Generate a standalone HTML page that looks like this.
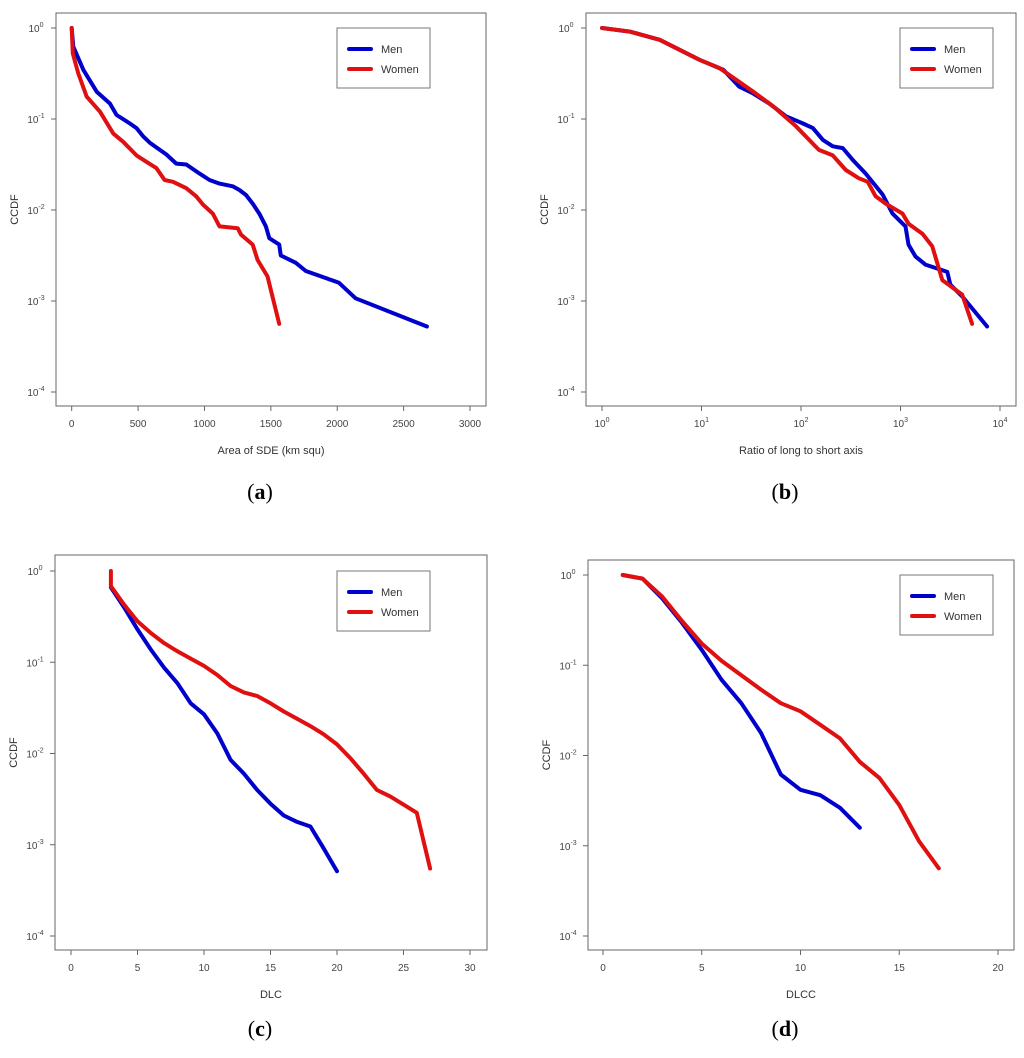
<!DOCTYPE html>
<html><head><meta charset="utf-8">
<style>
html,body{margin:0;padding:0;background:#fff;}
body{width:1024px;height:1058px;overflow:hidden;position:relative;font-family:"Liberation Sans",sans-serif;}
svg{position:absolute;left:0;top:0;}
.cap{position:absolute;font-family:"Liberation Serif",serif;font-size:22px;transform:translateX(-50%);}
</style></head>
<body>
<svg id="fig" width="1024" height="1058"></svg>
<div class="cap" style="left:260px;top:479px">(<b>a</b>)</div>
<div class="cap" style="left:785px;top:479px">(<b>b</b>)</div>
<div class="cap" style="left:260px;top:1016px">(<b>c</b>)</div>
<div class="cap" style="left:785px;top:1016px">(<b>d</b>)</div>
<script>
// Panel (a): x = Area of SDE, y = log10(CCDF)
const aMenX=[0,12,88,188,288,338,438,488,538,588,713,788,863,963,1038,1113,1213,1263,1313,1363,1413,1463,1488,1563,1575,1688,1763,2013,2138,2675];
const aMenY=[0,-0.205,-0.46,-0.70,-0.83,-0.956,-1.05,-1.1,-1.19,-1.26,-1.39,-1.49,-1.5,-1.6,-1.67,-1.71,-1.74,-1.78,-1.835,-1.93,-2.04,-2.18,-2.31,-2.38,-2.5,-2.58,-2.67,-2.8,-2.97,-3.28];
const aWomenX=[0,8,50,113,213,313,388,488,563,638,700,763,863,938,988,1063,1113,1250,1275,1363,1400,1475,1563];
const aWomenY=[0,-0.28,-0.5,-0.755,-0.92,-1.16,-1.25,-1.4,-1.47,-1.54,-1.67,-1.69,-1.76,-1.85,-1.94,-2.04,-2.18,-2.2,-2.27,-2.38,-2.55,-2.73,-3.25];
// Panel (b): x = log10(ratio), y = log10(CCDF)
const bMenX=[0,0.28,0.58,0.98,1.22,1.38,1.52,1.68,1.85,2.02,2.12,2.22,2.32,2.42,2.52,2.65,2.82,2.92,3.05,3.08,3.15,3.25,3.47,3.5,3.62,3.87];
const bMenY=[0,-0.04,-0.13,-0.35,-0.46,-0.645,-0.72,-0.83,-0.97,-1.05,-1.1,-1.23,-1.3,-1.32,-1.45,-1.6,-1.83,-2.04,-2.18,-2.38,-2.51,-2.6,-2.68,-2.82,-2.95,-3.28];
const bWomenX=[0,0.28,0.58,0.98,1.18,1.52,1.72,1.95,2.18,2.32,2.45,2.58,2.67,2.75,2.85,3.02,3.08,3.22,3.32,3.42,3.62,3.72];
const bWomenY=[0,-0.04,-0.13,-0.35,-0.44,-0.70,-0.86,-1.08,-1.34,-1.4,-1.56,-1.65,-1.69,-1.85,-1.93,-2.04,-2.15,-2.26,-2.40,-2.77,-2.93,-3.25];
// Panel (c): DLC
const cMenX=[3,4,5,6,7,8,9,10,11,12,13,14,15,16,17,18,19,20];
const cMenY=[-0.18,-0.40,-0.64,-0.86,-1.06,-1.23,-1.45,-1.57,-1.78,-2.07,-2.22,-2.40,-2.55,-2.68,-2.75,-2.80,-3.04,-3.29];
const cWomenX=[3,3,4,5,6,7,8,9,10,11,12,13,14,15,16,17,18,19,20,21,22,23,24,25,26,27];
const cWomenY=[0,-0.165,-0.37,-0.55,-0.68,-0.79,-0.88,-0.96,-1.04,-1.14,-1.26,-1.33,-1.37,-1.45,-1.54,-1.62,-1.70,-1.79,-1.90,-2.05,-2.22,-2.40,-2.47,-2.56,-2.65,-3.26];
// Panel (d): DLCC
const dMenX=[1,2,3,4,5,6,7,8,9,10,11,12,13];
const dMenY=[0,-0.04,-0.26,-0.53,-0.83,-1.16,-1.42,-1.75,-2.21,-2.38,-2.44,-2.58,-2.80];
const dWomenX=[1,2,3,4,5,6,7,8,9,10,11,12,13,14,15,16,17];
const dWomenY=[0,-0.04,-0.24,-0.51,-0.76,-0.95,-1.11,-1.27,-1.42,-1.51,-1.66,-1.81,-2.07,-2.25,-2.55,-2.95,-3.25];
// tick labels
const aXTicks=[0,500,1000,1500,2000,2500,3000];
const bXTicks=[0,1,2,3,4];
const cXTicks=[0,5,10,15,20,25,30];
const dXTicks=[0,5,10,15,20];
const yTicks=[0,-1,-2,-3,-4];

const NS='http://www.w3.org/2000/svg';
const svg=document.getElementById('fig');
function mk(tag,attrs,parent){const e=document.createElementNS(NS,tag);for(const k in attrs)e.setAttribute(k,attrs[k]);(parent||svg).appendChild(e);return e;}

function panel(p){
  const g=mk('g',{});
  
  
  const sx=v=>p.x0+(v-p.xmin)/(p.xmax-p.xmin)*(p.x1-p.x0);
  const sy=v=>p.y0+(0-v)/4*(p.y1-p.y0);
  const box=mk('rect',{x:p.bx0,y:p.by0,width:p.bx1-p.bx0,height:p.by1-p.by0,fill:'none',stroke:'#666','stroke-width':1},g);
  
  
  // x ticks
  p.xt.forEach(t=>{
    const X=sx(t);
    mk('line',{x1:X,x2:X,y1:p.by1,y2:p.by1+5,stroke:'#666'},g);
    const tx=mk('text',{x:X,y:p.by1+21,'font-size':10,fill:'#444','text-anchor':'middle'},g);
    
    
    if(p.logx){tx.textContent='10';const s=mk('tspan',{dy:-5,'font-size':7},tx);s.textContent=String(t);}
    else tx.textContent=String(t);
  });
  yTicks.forEach(t=>{
    const Y=sy(t);
    mk('line',{x1:p.bx0,x2:p.bx0-5,y1:Y,y2:Y,stroke:'#666'},g);
    const tx=mk('text',{x:p.bx0-20,y:Y+4,'font-size':10,fill:'#444','text-anchor':'middle'},g);
    
    
    tx.textContent='10';const s=mk('tspan',{dy:-5,'font-size':7},tx);s.textContent=String(t);
  });
  const xl=mk('text',{x:(p.bx0+p.bx1)/2,y:p.by1+48,'font-size':11,fill:'#333','text-anchor':'middle'},g);
  
  
  xl.textContent=p.xlabel;
  const yl=mk('text',{x:0,y:0,'font-size':11,fill:'#333','text-anchor':'middle',transform:`translate(${p.bx0-38},${(p.by0+p.by1)/2}) rotate(-90)`},g);
  
  
  yl.textContent='CCDF';
  p.series.forEach(s=>{
    const d=s.x.map((v,i)=>(i?'L':'M')+sx(v).toFixed(1)+','+sy(s.y[i]).toFixed(1)).join('');
    const pa=mk('path',{d:d,fill:'none',stroke:s.c,'stroke-width':4,'stroke-linejoin':'round','stroke-linecap':'round'},g);
    
    
  });
  const lg=mk('g',{},g);
  
  
  mk('rect',{x:p.lx,y:p.ly,width:93,height:60,fill:'#fff',stroke:'#777'},lg);
  [['Men','#0000cc'],['Women','#e01010']].forEach((e,i)=>{
    const ee=mk('g',{},lg);
    
    
    const yy=p.ly+21+i*20;
    mk('line',{x1:p.lx+12,x2:p.lx+34,y1:yy,y2:yy,stroke:e[1],'stroke-width':4,'stroke-linecap':'round'},ee);
    const t=mk('text',{x:p.lx+44,y:yy+4,'font-size':11,fill:'#333'},ee);t.textContent=e[0];
  });
}
panel({id:'a',bx0:56,bx1:486,by0:13,by1:406,x0:71.7,x1:470,xmin:0,xmax:3000,y0:28,y1:392,xt:aXTicks,xlabel:'Area of SDE (km squ)',lx:337,ly:28,
  series:[{x:aMenX,y:aMenY,c:'#0000cc',n:'men'},{x:aWomenX,y:aWomenY,c:'#e01010',n:'women'}]});
panel({id:'b',bx0:586,bx1:1016,by0:13,by1:406,x0:602,x1:1000,xmin:0,xmax:4,y0:28,y1:392,xt:bXTicks,logx:true,xlabel:'Ratio of long to short axis',lx:900,ly:28,
  series:[{x:bMenX,y:bMenY,c:'#0000cc',n:'men'},{x:bWomenX,y:bWomenY,c:'#e01010',n:'women'}]});
panel({id:'c',bx0:55,bx1:487,by0:555,by1:950,x0:71,x1:470,xmin:0,xmax:30,y0:571,y1:936,xt:cXTicks,xlabel:'DLC',lx:337,ly:571,
  series:[{x:cMenX,y:cMenY,c:'#0000cc',n:'men'},{x:cWomenX,y:cWomenY,c:'#e01010',n:'women'}]});
panel({id:'d',bx0:588,bx1:1014,by0:560,by1:950,x0:603,x1:998,xmin:0,xmax:20,y0:575,y1:936,xt:dXTicks,xlabel:'DLCC',lx:900,ly:575,
  series:[{x:dMenX,y:dMenY,c:'#0000cc',n:'men'},{x:dWomenX,y:dWomenY,c:'#e01010',n:'women'}]});
</script>
</body></html>
